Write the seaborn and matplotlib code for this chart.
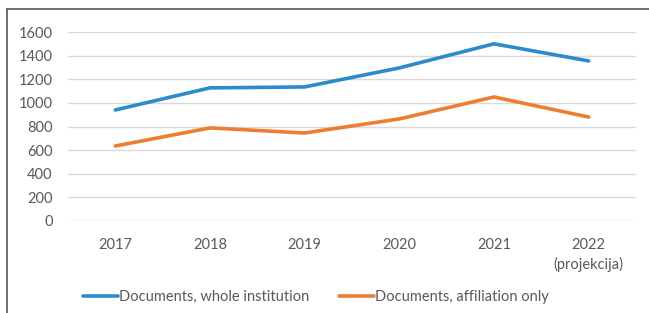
import matplotlib.pyplot as plt
import seaborn as sns
import pandas as pd

years = ["2017", "2018", "2019", "2020", "2021", "2022\n(projekcija)"]
whole = [940, 1127, 1135, 1296, 1500, 1355]
affil = [635, 788, 745, 864, 1050, 880]
labels = ["Documents, whole institution", "Documents, affiliation only"]
colors = ["#2b8bcb", "#ed7d31"]

df = pd.DataFrame({
    "year": years * 2,
    "docs": whole + affil,
    "series": [labels[0]] * len(years) + [labels[1]] * len(years),
})

sns.set_style("white")
plt.rcParams["font.family"] = ["Lato", "DejaVu Sans"]
txt = "#595959"

fig = plt.figure(figsize=(6.49, 3.13), dpi=100)
ax = fig.add_axes([68 / 649, 1 - 221 / 313, 568 / 649, 189 / 313])

sns.lineplot(data=df, x="year", y="docs", hue="series", palette=colors,
             linewidth=2.6, sort=False, ax=ax, legend=True)

ax.set_xlim(-0.5, len(years) - 0.5)
ax.set_ylim(0, 1600)
ax.set_yticks(range(0, 1601, 200))
ax.yaxis.grid(True, color="#d9d9d9", linewidth=1)
ax.set_axisbelow(True)
for s in ax.spines.values():
    s.set_visible(False)
ax.tick_params(axis="both", length=0, labelsize=10.5, colors=txt)
ax.tick_params(axis="y", pad=11)
ax.tick_params(axis="x", pad=12)
for t in ax.get_xticklabels():
    t.set_linespacing(1.45)
ax.set_xlabel("")
ax.set_ylabel("")

h, l = ax.get_legend_handles_labels()
ax.legend(h, l, loc="center", bbox_to_anchor=((316 - 68) / 568, (1 - 297 / 313 - (1 - 221 / 313)) / (189 / 313)),
          ncol=2, frameon=False, fontsize=10.5, handlelength=2.4, handletextpad=0.1,
          columnspacing=2.0, labelcolor=txt)

# frame lines at top and left like the source image
fig.add_artist(plt.Line2D([7 / 649, 1], [1 - 9 / 313, 1 - 9 / 313], color="#555555", linewidth=1.2,
                          transform=fig.transFigure))
fig.add_artist(plt.Line2D([7 / 649, 7 / 649], [0, 1 - 9 / 313], color="#555555", linewidth=1.2,
                          transform=fig.transFigure))

fig.savefig("out.png", dpi=100)
